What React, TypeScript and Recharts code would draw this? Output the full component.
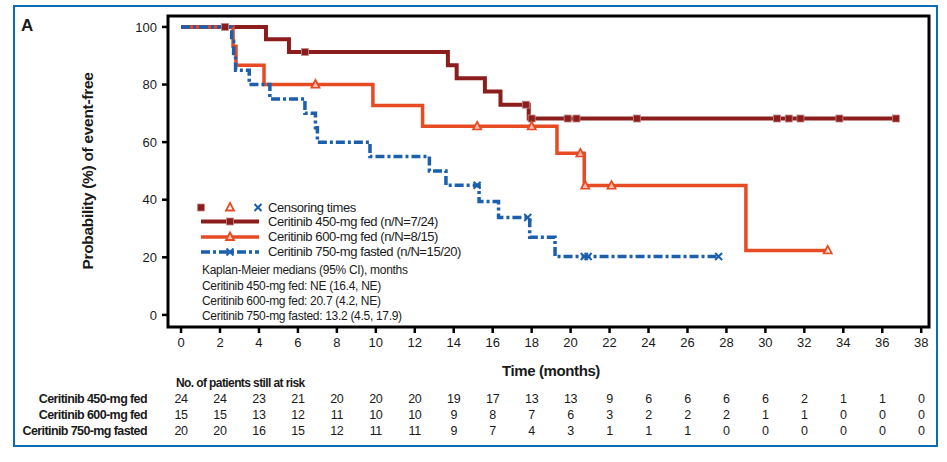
import { ComposedChart, Line, Scatter, XAxis, YAxis, ReferenceArea } from 'recharts';

// time axis (months) and probability axis
const monthTicks = [0, 2, 4, 6, 8, 10, 12, 14, 16, 18, 20, 22, 24, 26, 28, 30, 32, 34, 36, 38];
const pctTicks = [0, 20, 40, 60, 80, 100];

// Kaplan-Meier steps
const fed450Times = [0, 4.36, 5.54, 13.7, 14.15, 15.6, 16.4, 17.85, 36.7];
const fed450Surv = [100, 95.7, 91.3, 86.7, 82.2, 77.6, 73.0, 68.2, 68.2];
const fed450CensorT = [2.26, 6.36, 17.7, 18.0, 19.85, 20.3, 23.4, 30.6, 31.2, 31.8, 33.8, 36.7];
const fed450CensorS = [100, 91.3, 73.0, 68.2, 68.2, 68.2, 68.2, 68.2, 68.2, 68.2, 68.2, 68.2];

const fed600Times = [0, 2.67, 2.82, 4.26, 9.85, 12.4, 19.3, 20.7, 29.0, 33.2];
const fed600Surv = [100, 93.3, 86.7, 80, 72.7, 65.5, 56.1, 44.9, 22.4, 22.4];
const fed600CensorT = [6.9, 15.2, 18.0, 20.5, 20.75, 22.1, 33.2];
const fed600CensorS = [80, 65.5, 65.5, 56.1, 44.9, 44.9, 22.4];

const fasted750Times = [0, 2.6, 2.7, 2.8, 3.5, 4.56, 6.36, 6.9, 7.0, 9.7, 12.75, 13.6, 15.3, 16.3, 17.9, 19.2, 27.6];
const fasted750Surv = [100, 95, 90, 85, 80, 75, 70, 65, 60, 55, 50, 45, 39.4, 33.8, 27.0, 20.3, 20.3];
const fasted750CensorT = [15.2, 17.8, 20.7, 20.9, 27.6];
const fasted750CensorS = [45, 33.8, 20.3, 20.3, 20.3];

// number at risk, one per month tick
const atRisk450 = [24, 24, 23, 21, 20, 20, 20, 19, 17, 13, 13, 9, 6, 6, 6, 6, 2, 1, 1, 0];
const atRisk600 = [15, 15, 13, 12, 11, 10, 10, 9, 8, 7, 6, 3, 2, 2, 2, 1, 1, 0, 0, 0];
const atRisk750 = [20, 20, 16, 15, 12, 11, 11, 9, 7, 4, 3, 1, 1, 1, 0, 0, 0, 0, 0, 0];

const seriesNames = ['Ceritinib 450-mg fed', 'Ceritinib 600-mg fed', 'Ceritinib 750-mg fasted'];
const legendLabels = [
  'Ceritinib 450-mg fed (n/N=7/24)',
  'Ceritinib 600-mg fed (n/N=8/15)',
  'Ceritinib 750-mg fasted (n/N=15/20)',
];
const medianLines = [
  'Kaplan-Meier medians (95% CI), months',
  'Ceritinib 450-mg fed: NE (16.4, NE)',
  'Ceritinib 600-mg fed: 20.7 (4.2, NE)',
  'Ceritinib 750-mg fasted: 13.2 (4.5, 17.9)',
];

const RED = '#8C1D1D';
const ORANGE = '#E64B24';
const BLUE = '#1B5FAD';
const FRAME = '#0B6DB7';
const FONT = '"Liberation Sans", Arial, sans-serif';

const X_MIN = -0.67;
const X_MAX = 38.4;
const Y_MIN = -4.2;
const Y_MAX = 103.8;
const PLOT_L = 168;
const PLOT_R = 929;
const PLOT_T = 16;
const PLOT_B = 327;

const xPx = (m: number) => PLOT_L + ((m - X_MIN) / (X_MAX - X_MIN)) * (PLOT_R - PLOT_L);

const toPts = (t: number[], s: number[]) => t.map((x, i) => ({ t: x, s: s[i] }));

const Square = (p: any) => (
  <rect x={p.cx - 3.5} y={p.cy - 3.5} width={7} height={7} fill={RED} stroke="#c48a8a" strokeWidth={0.8} />
);
const Triangle = (p: any) => (
  <path
    d={`M${p.cx},${p.cy - 4.5} L${p.cx + 4},${p.cy + 3} L${p.cx - 4},${p.cy + 3} Z`}
    fill="#fff"
    fillOpacity={0.6}
    stroke={ORANGE}
    strokeWidth={1.8}
  />
);
const Cross = (p: any) => (
  <g stroke={BLUE} strokeWidth={2}>
    <line x1={p.cx - 3.5} y1={p.cy - 3.5} x2={p.cx + 3.5} y2={p.cy + 3.5} />
    <line x1={p.cx - 3.5} y1={p.cy + 3.5} x2={p.cx + 3.5} y2={p.cy - 3.5} />
  </g>
);

const txt = (extra: React.CSSProperties): React.CSSProperties => ({
  position: 'absolute',
  fontFamily: FONT,
  color: '#1a1a1a',
  whiteSpace: 'nowrap',
  lineHeight: 1,
  ...extra,
});

function LegendBox() {
  const rows = [221.5, 237, 252];
  return (
    <>
      <svg style={{ position: 'absolute', left: 0, top: 0 }} width={947} height={462}>
        <Square cx={201} cy={207.5} />
        <Triangle cx={230} cy={207.5} />
        <Cross cx={258} cy={207.5} />
        <line x1={201} y1={rows[0]} x2={259} y2={rows[0]} stroke={RED} strokeWidth={4} />
        <Square cx={230} cy={rows[0]} />
        <line x1={201} y1={rows[1]} x2={259} y2={rows[1]} stroke={ORANGE} strokeWidth={3.5} />
        <Triangle cx={230} cy={rows[1]} />
        <line x1={201} y1={rows[2]} x2={259} y2={rows[2]} stroke={BLUE} strokeWidth={3.5} strokeDasharray="9 3 3 3" />
        <Cross cx={230} cy={rows[2]} />
      </svg>
      <div style={txt({ left: 268, top: 207.5 - 7, fontSize: 13, letterSpacing: -0.4 })}>Censoring times</div>
      {legendLabels.map((l, i) => (
        <div key={l} style={txt({ left: 268, top: rows[i] - 7, fontSize: 13, letterSpacing: -0.4 })}>
          {l}
        </div>
      ))}
      {medianLines.map((l, i) => (
        <div key={l} style={txt({ left: 202, top: [270, 286, 301, 316][i] - 6.5, fontSize: 12, letterSpacing: -0.3 })}>
          {l}
        </div>
      ))}
    </>
  );
}

function RiskTable() {
  const rowY = [399, 415.5, 431.5];
  const rows = [atRisk450, atRisk600, atRisk750];
  return (
    <>
      <div style={txt({ left: 176, top: 383 - 6.5, fontSize: 12, fontWeight: 700, letterSpacing: -0.6 })}>
        No. of patients still at risk
      </div>
      {rows.map((vals, r) => (
        <div key={r}>
          <div
            style={txt({
              right: 947 - 147,
              top: rowY[r] - 6.5,
              fontSize: 12.5,
              fontWeight: 700,
              letterSpacing: -0.6,
            })}
          >
            {seriesNames[r]}
          </div>
          {vals.map((v, i) => (
            <div
              key={i}
              style={txt({
                left: xPx(monthTicks[i]) - 15,
                width: 30,
                textAlign: 'center',
                top: rowY[r] - 6.5,
                fontSize: 12.5,
                letterSpacing: -0.3,
              })}
            >
              {v}
            </div>
          ))}
        </div>
      ))}
    </>
  );
}

export default function App() {
  const tickStyle = { fontSize: 13, fill: '#1a1a1a', fontFamily: FONT };
  return (
    <div style={{ position: 'absolute', left: 0, top: 0, width: 947, height: 462, background: '#fff' }}>
      <div
        style={{
          position: 'absolute',
          left: 13,
          top: 5,
          width: 925,
          height: 442,
          border: `2px solid ${FRAME}`,
          boxSizing: 'border-box',
        }}
      />
      <ComposedChart
        width={947}
        height={462}
        margin={{ top: PLOT_T, right: 947 - PLOT_R, bottom: 462 - PLOT_B - 30, left: PLOT_L - 60 }}
        style={{ position: 'absolute', left: 0, top: 0 }}
      >
        <XAxis
          type="number"
          dataKey="t"
          domain={[X_MIN, X_MAX]}
          allowDataOverflow
          ticks={monthTicks}
          interval={0}
          height={30}
          axisLine={false}
          tickLine={{ stroke: '#000', strokeWidth: 2.5 }}
          tickSize={6}
          tickMargin={5}
          tick={tickStyle}
        />
        <YAxis
          type="number"
          dataKey="s"
          domain={[Y_MIN, Y_MAX]}
          allowDataOverflow
          ticks={pctTicks}
          interval={0}
          width={60}
          axisLine={false}
          tickLine={{ stroke: '#000', strokeWidth: 2.5 }}
          tickSize={6}
          tickMargin={5}
          tick={tickStyle}
        />
        <ReferenceArea x1={X_MIN} x2={X_MAX} y1={Y_MIN} y2={Y_MAX} fill="none" stroke="#000" strokeWidth={3} />
        <Line
          data={toPts(fed450Times, fed450Surv)}
          dataKey="s"
          type="stepAfter"
          stroke={RED}
          strokeWidth={4}
          dot={false}
          activeDot={false}
          isAnimationActive={false}
        />
        <Line
          data={toPts(fed600Times, fed600Surv)}
          dataKey="s"
          type="stepAfter"
          stroke={ORANGE}
          strokeWidth={3.5}
          dot={false}
          activeDot={false}
          isAnimationActive={false}
        />
        <Line
          data={toPts(fasted750Times, fasted750Surv)}
          dataKey="s"
          type="stepAfter"
          stroke={BLUE}
          strokeWidth={3.5}
          strokeDasharray="9 3 3 3"
          dot={false}
          activeDot={false}
          isAnimationActive={false}
        />
        <Scatter data={toPts(fed450CensorT, fed450CensorS)} dataKey="s" shape={Square} isAnimationActive={false} />
        <Scatter data={toPts(fed600CensorT, fed600CensorS)} dataKey="s" shape={Triangle} isAnimationActive={false} />
        <Scatter data={toPts(fasted750CensorT, fasted750CensorS)} dataKey="s" shape={Cross} isAnimationActive={false} />
      </ComposedChart>
      <div style={txt({ left: 21, top: 17, fontSize: 17, fontWeight: 700 })}>A</div>
      <div
        style={txt({
          left: 88,
          top: 171,
          fontSize: 15.5,
          fontWeight: 700,
          letterSpacing: -0.3,
          transform: 'translate(-50%, -50%) rotate(-90deg)',
        })}
      >
        Probability (%) of event-free
      </div>
      <div
        style={txt({
          left: 551,
          top: 370,
          fontSize: 15,
          fontWeight: 700,
          letterSpacing: -0.4,
          transform: 'translate(-50%, -50%)',
        })}
      >
        Time (months)
      </div>
      <LegendBox />
      <RiskTable />
    </div>
  );
}
